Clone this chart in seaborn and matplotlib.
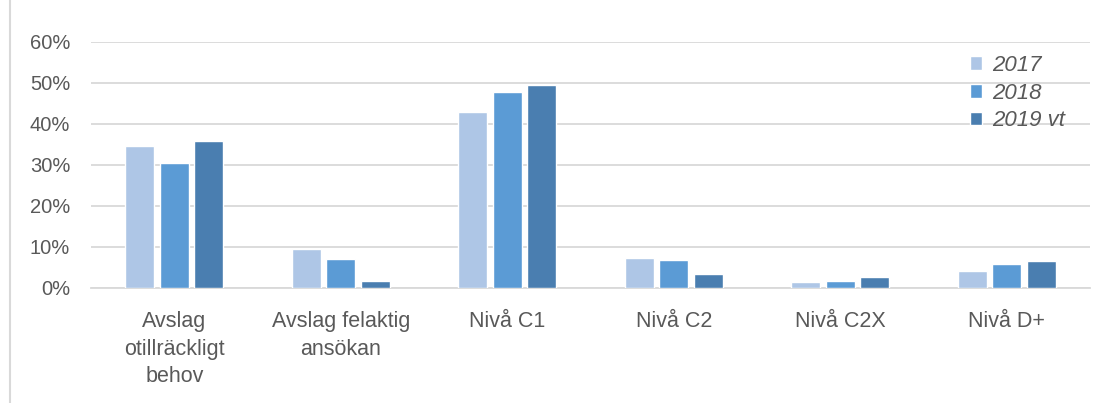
import seaborn as sns
import matplotlib.pyplot as plt
import matplotlib.lines as mlines
import pandas as pd
from matplotlib.ticker import PercentFormatter

# Data (share of decisions)
categories = ["Avslag\notillräckligt\nbehov", "Avslag felaktig\nansökan", "Nivå C1",
              "Nivå C2", "Nivå C2X", "Nivå D+"]
years = ["2017", "2018", "2019 vt"]
values_2017 = [0.345, 0.095, 0.428, 0.073, 0.013, 0.042]
values_2018 = [0.305, 0.070, 0.478, 0.068, 0.016, 0.058]
values_2019vt = [0.359, 0.016, 0.494, 0.033, 0.026, 0.064]
colors = ["#AEC6E6", "#5B9BD5", "#4A7EB0"]

df = pd.DataFrame({
    "Kategori": categories * 3,
    "År": [y for y in years for _ in categories],
    "Andel": values_2017 + values_2018 + values_2019vt,
})

sns.set_style("white")
plt.rcParams["font.family"] = ["Liberation Sans", "DejaVu Sans"]
text_color = "#595959"
grid_color = "#D9D9D9"

fig = plt.figure(figsize=(11.07, 4.03), dpi=100)
ax = fig.add_axes([0.0822, 0.286, 0.9025, 0.6105])

sns.barplot(data=df, x="Kategori", y="Andel", hue="År", palette=colors,
            width=0.62, gap=0.16, saturation=1, ax=ax, zorder=3)

ax.set_ylim(0, 0.6)
ax.set_yticks([0, 0.1, 0.2, 0.3, 0.4, 0.5, 0.6])
ax.yaxis.set_major_formatter(PercentFormatter(1.0, decimals=0))
ax.grid(axis="y", color=grid_color, linewidth=1.3, zorder=0)
ax.set_axisbelow(True)
ax.set_xlabel("")
ax.set_ylabel("")

for side in ["top", "right", "left"]:
    ax.spines[side].set_visible(False)
ax.spines["bottom"].set_color(grid_color)
ax.spines["bottom"].set_linewidth(1.3)

ax.tick_params(axis="y", length=0, pad=15, labelsize=14.5, labelcolor=text_color)
ax.tick_params(axis="x", length=0, pad=17, labelsize=15.5, labelcolor=text_color)
for lbl in ax.get_xticklabels():
    lbl.set_linespacing(1.4)

handles, labels = ax.get_legend_handles_labels()
ax.legend(handles, labels, loc="upper left",
          bbox_to_anchor=(970 / 1107, 1 - 55 / 403), bbox_transform=fig.transFigure,
          frameon=False, handlelength=0.55, handleheight=0.55,
          handletextpad=0.45, labelspacing=0.3, borderpad=0, borderaxespad=0,
          prop={"style": "italic", "size": 16})
for t in ax.get_legend().get_texts():
    t.set_color(text_color)

# thin frame edge on the left like the original chart border
fig.add_artist(mlines.Line2D([10 / 1107, 10 / 1107], [0, 1], color=grid_color,
                             linewidth=1.5, transform=fig.transFigure))

plt.savefig("out.png", dpi=100)
plt.close()
